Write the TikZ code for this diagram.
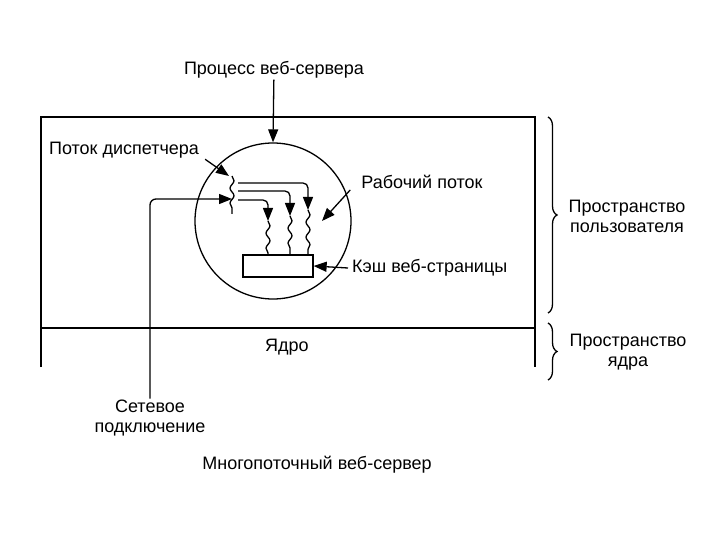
\documentclass[tikz,border=0pt]{standalone}
\usepackage{fontspec}
\setmainfont{Liberation Sans}
\usetikzlibrary{positioning, arrows.meta, decorations.pathmorphing, decorations.pathreplacing}

\begin{document}
\begin{tikzpicture}[
        x=1pt, y=-1pt,
        >={Triangle[length=13pt, width=10pt]},
        every node/.style={font=\fontsize{18}{20}\selectfont, align=center, inner sep=1pt},
        wall/.style={line width=1.3pt, draw=black},
        line/.style={->, line width=1.3pt},
        thread/.style={line width=1.3pt, decorate, decoration={snake, segment length=15pt, amplitude=2pt}},
        procbox/.style={draw, circle, line width=1.3pt, minimum size=156pt, inner sep=0pt},
        cachebox/.style={draw, line width=1.3pt, minimum width=70pt, minimum height=22pt, inner sep=0pt},
        brace/.style={decorate, decoration={brace, amplitude=9pt}, line width=1.3pt}
    ]
        \useasboundingbox (0,0) rectangle (720,540);

        % address space frame
        \draw[wall] (41,367) -- (41,117) -- (535,117) -- (535,367);
        \draw[wall] (41,328) -- (535,328);

        % process and its threads
        \node[procbox] (proc) at (273,221) {};
        \node[cachebox] (cache) at (278,266) {};
        \coordinate (disptop) at (232,176);
        \coordinate (dispbot) at (232,214);
        \coordinate (w1) at (268,221);
        \coordinate (w2) at (290,216);
        \coordinate (w3) at (308,210);
        \coordinate (d1) at (238,183);
        \coordinate (d2) at (238,191);
        \coordinate (d3) at (238,200);
        \coordinate (workpt) at (322,221);
        \draw[thread] (disptop) -- (dispbot);
        \draw[thread] (w1) -- (w1 |- cache.north);
        \draw[thread] (w2) -- (w2 |- cache.north);
        \draw[thread] (w3) -- (w3 |- cache.north);
        \draw[line, rounded corners=5pt] (d1) -| (w3);
        \draw[line, rounded corners=5pt] (d2) -| (w2);
        \draw[line, rounded corners=5pt] (d3) -| (w1);

        % labels
        \node (proclbl) at (274,70) {Процесс веб-сервера};
        \node (displbl) at (124,150) {Поток диспетчера};
        \node (worklbl) at (422,182) {Рабочий поток};
        \node[right, inner sep=4pt] (cachelbl) at (348,268) {Кэш веб-страницы};
        \node (netlbl) at (150,418) {Сетевое\\подключение};
        \node (kernlbl) at (287,347) {Ядро};
        \node (userlbl) at (627,216) {Пространство\\пользователя};
        \node (kspacelbl) at (628,352) {Пространство\\ядра};
        \node (title) at (317,465) {Многопоточный веб-сервер};

        \draw[line] (proclbl) -- (proc.north);
        \draw[line] ([xshift=5pt]displbl.south east) -- ([xshift=-3pt]disptop);
        \draw[line] ([xshift=-10pt]worklbl.south west) -- (workpt);
        \draw[line] (cachelbl.west) -- (cache.east);
        \draw[line, rounded corners=6pt] (netlbl.north) |- ([xshift=-6pt]d3 |- 0,199);

        % braces
        \draw[brace] (548,117) -- (548,313);
        \draw[brace] (548,323) -- (548,380);
    \end{tikzpicture}
\end{document}
